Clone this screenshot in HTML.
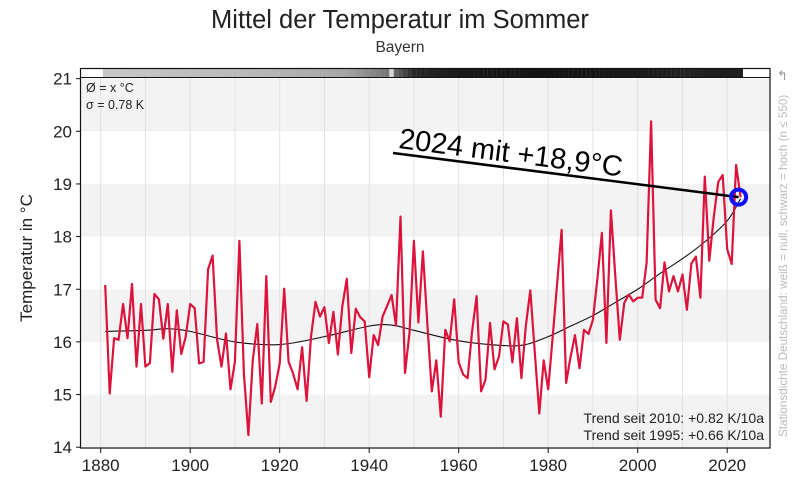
<!DOCTYPE html>
<html><head><meta charset="utf-8">
<style>
html,body{margin:0;padding:0;background:#fff;}
body{width:800px;height:478px;overflow:hidden;font-family:"Liberation Sans","DejaVu Sans",sans-serif;}
svg text{font-family:"Liberation Sans","DejaVu Sans",sans-serif;}
</style></head>
<body>
<svg id="chart" width="800" height="478" viewBox="0 0 800 478" xmlns="http://www.w3.org/2000/svg">
<text x="400" y="28" text-anchor="middle" font-size="25.5" fill="#222">Mittel der Temperatur im Sommer</text>
<text x="400" y="52" text-anchor="middle" font-size="15.5" fill="#333">Bayern</text>
<g id="bands"></g>
<g id="grid"></g>
<g id="strip"></g>
<rect x="80.5" y="68.5" width="689.5" height="379.5" fill="none" stroke="#111" stroke-width="1.2"/>
<text x="86" y="92" font-size="12.5" fill="#222">Ø = x °C</text>
<text x="86" y="109" font-size="12.5" fill="#222">σ = 0.78 K</text>
<g id="yaxis"></g>
<g id="xaxis"></g>
<text transform="translate(32,258) rotate(-90)" text-anchor="middle" font-size="17" fill="#222">Temperatur in °C</text>
<path id="trend" fill="none" stroke="#111" stroke-width="1.1"/>
<path id="series" fill="none" stroke="#dc143c" stroke-width="2.2" stroke-linejoin="round"/>
<line id="annLine" stroke="#000" stroke-width="2.5"/>
<text id="annText" font-size="29" fill="#000">2024 mit +18,9°C</text>
<circle id="marker" r="7.5" fill="none" stroke="#1010ff" stroke-width="4"/>
<text x="764" y="423" text-anchor="end" font-size="14" fill="#222">Trend seit 2010: +0.82 K/10a</text>
<text x="764" y="440" text-anchor="end" font-size="14" fill="#222">Trend seit 1995: +0.66 K/10a</text>
<text transform="translate(787,437) rotate(-90)" font-size="11.7" fill="#bbb">Stationsdichte Deutschland: weiß = null, schwarz = hoch (n ≤ 550)</text>
<text x="777" y="80" font-size="13" fill="#999">↰</text>
</svg>
<script>
const startYear = 1881;
const temps = [17.08,15.02,16.07,16.04,16.72,16.07,17.1,15.53,16.72,15.53,
15.6,16.91,16.81,16.06,16.72,15.43,16.6,15.77,16.1,16.72,
16.64,15.59,15.62,17.38,17.64,16.04,15.53,16.16,15.1,15.62,
17.92,15.4,14.23,15.66,16.34,14.83,17.25,14.86,15.15,15.59,
17.01,15.62,15.4,15.1,15.9,14.88,16.1,16.76,16.48,16.66,
15.98,16.57,15.76,16.67,17.2,15.79,16.63,16.47,16.39,15.33,
16.13,15.94,16.48,16.68,16.89,16.31,18.38,15.41,16.17,17.92,
16.37,17.72,16.33,15.06,15.65,14.58,16.23,16.01,16.81,15.61,
15.38,15.31,16.2,16.87,15.06,15.28,16.36,15.48,15.72,16.39,
16.33,15.61,16.45,15.31,16.3,16.98,15.8,14.64,15.65,15.1,
16.1,17.1,18.13,15.22,15.72,16.13,15.5,16.23,16.15,16.42,
17.2,18.07,15.98,18.5,17.25,16.04,16.74,16.9,16.77,16.84,16.84,
17.5,20.19,16.8,16.64,17.51,16.96,17.25,16.96,17.28,16.61,
17.49,17.62,16.84,19.14,17.54,18.38,19.04,19.17,17.76,17.48,
19.36,18.75];
const trendYears = [1881,1890,1895,1900,1910,1920,1930,1940,1945,1950,1960,1970,1975,1980,1985,1990,1995,2000,2005,2010,2015,2020,2023];
const trendVals = [16.2,16.22,16.25,16.2,16.0,15.95,16.1,16.3,16.32,16.22,16.02,15.93,15.95,16.1,16.3,16.5,16.75,17.0,17.3,17.58,17.9,18.3,18.72];
const yTicks = [14,15,16,17,18,19,20,21];
const xTickLabels = [1880,1900,1920,1940,1960,1980,2000,2020];

const NS="http://www.w3.org/2000/svg";
const X0=80.5,X1=770,YT=68.5,YB=448;
function xs(yr){return 100.7+4.475*(yr-1880);}
function ys(t){return 236.6+(18-t)*52.65;}
function mk(tag,attrs,parent){const e=document.createElementNS(NS,tag);for(const k in attrs)e.setAttribute(k,attrs[k]);document.getElementById(parent).appendChild(e);return e;}

for(let t=14;t<21;t++){
  const r=mk('rect',{x:X0,y:ys(t+1),width:X1-X0,height:ys(t)-ys(t+1),fill:(t%2===0)?'#f3f3f3':'#ffffff'},'bands');
  
  
}
for(let yr=1880;yr<=2020;yr+=10){
  const l=mk('line',{x1:xs(yr),x2:xs(yr),y1:77,y2:YB,stroke:'#e2e2e2','stroke-width':1},'grid');
  
  
}
(function(){
  const stops=[[1881,200],[1900,190],[1920,180],[1935,165],[1940,140],[1944,120],[1945,215],[1946,100],[1950,40],[1960,25],[1980,20],[2000,25],[2010,35],[2018,30],[2023,30]];
  function g(yr){for(let i=0;i<stops.length-1;i++){if(yr>=stops[i][0]&&yr<=stops[i+1][0]){const a=stops[i],b=stops[i+1];return a[1]+(b[1]-a[1])*(yr-a[0])/(b[0]-a[0]);}}return 30;}
  for(let yr=1881;yr<=2023;yr++){
    const v=Math.round(g(yr));
    const r=mk('rect',{x:xs(yr)-2.3,y:68.5,width:4.6,height:9,fill:'rgb('+v+','+v+','+v+')'},'strip');
    
    
  }
  const l=mk('line',{x1:X0,x2:X1,y1:77.5,y2:77.5,stroke:'#111','stroke-width':1},'strip');
  
  
})();
yTicks.forEach(t=>{
  const l=mk('line',{x1:76,x2:80.5,y1:ys(t),y2:ys(t),stroke:'#111'},'yaxis');
  
  
  const tx=mk('text',{x:72,y:ys(t)+6,'text-anchor':'end','font-size':17,fill:'#222'},'yaxis');
  tx.textContent=t;
  
  
});
xTickLabels.forEach(yr=>{
  const l=mk('line',{x1:xs(yr),x2:xs(yr),y1:YB,y2:YB+5,stroke:'#111'},'xaxis');
  
  
  const tx=mk('text',{x:xs(yr),y:471,'text-anchor':'middle','font-size':17,fill:'#222'},'xaxis');
  tx.textContent=yr;
  
  
});
let d='';
temps.forEach((t,i)=>{d+=(i?'L':'M')+xs(startYear+i).toFixed(1)+','+ys(t).toFixed(1);});
document.getElementById('series').setAttribute('d',d);
(function(){
  const p=trendYears.map((y,i)=>[xs(y),ys(trendVals[i])]);
  let s='M'+p[0][0]+','+p[0][1];
  for(let i=0;i<p.length-1;i++){
    const p0=p[Math.max(0,i-1)],p1=p[i],p2=p[i+1],p3=p[Math.min(p.length-1,i+2)];
    const c1=[p1[0]+(p2[0]-p0[0])/6,p1[1]+(p2[1]-p0[1])/6];
    const c2=[p2[0]-(p3[0]-p1[0])/6,p2[1]-(p3[1]-p1[1])/6];
    s+='C'+c1.join(',')+' '+c2.join(',')+' '+p2.join(',');
  }
  document.getElementById('trend').setAttribute('d',s);
})();
const lastYr=startYear+temps.length-1, lastT=temps[temps.length-1];
const mx=xs(lastYr)-2, my=ys(lastT);
const m=document.getElementById('marker');
m.setAttribute('cx',mx);m.setAttribute('cy',my);
const al=document.getElementById('annLine');
al.setAttribute('x1',393);al.setAttribute('y1',153);al.setAttribute('x2',mx);al.setAttribute('y2',my);
const ang=Math.atan2(my-153,mx-393)*180/Math.PI;
document.getElementById('annText').setAttribute('transform','translate(398,148) rotate('+ang.toFixed(2)+')');
</script>
</body></html>
